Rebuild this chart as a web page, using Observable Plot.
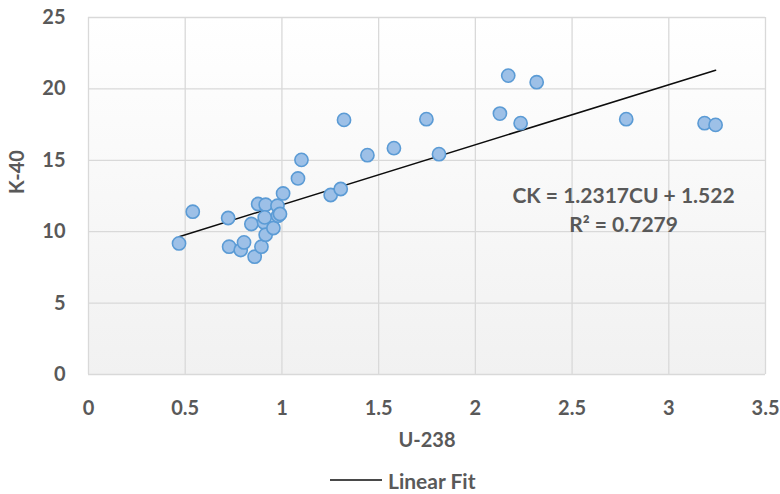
<!DOCTYPE html>
<html>
<head>
<meta charset="utf-8">
<script src="https://cdn.jsdelivr.net/npm/d3@7"></script>
<script src="https://cdn.jsdelivr.net/npm/@observablehq/plot@0.6"></script>
<style>
  html, body { margin: 0; padding: 0; background: #ffffff; }
  #chart { width: 780px; height: 462px; }
  #legend { width: 780px; height: 36px; display: flex; justify-content: flex-start; align-items: center;
    box-sizing: border-box; padding-left: 330px;
    font-family: Lato, sans-serif; font-weight: bold; font-size: 21px; color: #595959; }
  #legend svg { margin-right: 6px; }
</style>
</head>
<body>
<div id="chart"></div>
<div id="legend"></div>
<script>
// U-238 values (x)
const u238 = [0.468, 0.539, 0.722, 0.727, 0.787, 0.804, 0.842, 0.859, 0.894, 0.877,
              0.916, 0.908, 0.911, 0.916, 0.956, 0.977, 0.980, 0.990, 1.006, 1.083,
              1.101, 1.252, 1.304, 1.321, 1.442, 1.579, 1.747, 1.812, 2.127, 2.170,
              2.234, 2.317, 2.780, 3.185, 3.242];
// K-40 values (y)
const k40 = [9.18, 11.40, 10.96, 8.95, 8.72, 9.25, 10.54, 8.25, 8.95, 11.94,
             11.89, 10.65, 11.00, 9.79, 10.26, 11.82, 11.12, 11.24, 12.68, 13.73,
             15.03, 12.57, 12.99, 17.83, 15.36, 15.85, 17.88, 15.43, 18.27, 20.93,
             17.60, 20.47, 17.88, 17.60, 17.48];
const xTicks = [0, 0.5, 1, 1.5, 2, 2.5, 3, 3.5];
const yTicks = [0, 5, 10, 15, 20, 25];
const xLabel = "U-238";
const yLabel = "K-40";
const fitLabel = "Linear Fit";
const annotationText = ["CK = 1.2317CU + 1.522", "R² = 0.7279"];
const annotationX = [2.766, 2.766];
const annotationY = [12.45, 10.42];

const data = u238.map((u, i) => ({u, k: k40[i]}));
const annotation = annotationText.map((t, i) => ({t, x: annotationX[i], y: annotationY[i]}));

const textColor = "#595959";
const chart = Plot.plot({
  width: 780,
  height: 462,
  marginLeft: 88,
  marginRight: 15,
  marginTop: 17,
  marginBottom: 88,
  style: { fontFamily: "Lato, sans-serif", fontWeight: "bold", fontSize: "20px", color: textColor, background: "transparent", overflow: "visible" },
  x: { domain: [0, 3.5], label: null },
  y: { domain: [0, 25], label: null },
  marks: [
    Plot.frame({ fill: "url(#bggrad)", stroke: null }),
    Plot.gridX(xTicks, { stroke: "#d9d9d9", strokeOpacity: 1, strokeWidth: 1.3 }),
    Plot.gridY(yTicks, { stroke: "#d9d9d9", strokeOpacity: 1, strokeWidth: 1.3 }),
    Plot.axisX(xTicks, { tickSize: 0, tickPadding: 26, label: null, fill: textColor, tickFormat: d => String(d) }),
    Plot.axisY(yTicks, { tickSize: 0, tickPadding: 23, label: null, fill: textColor }),
    Plot.text([xLabel], { frameAnchor: "bottom", dy: 72, fill: textColor, fontSize: 20, fontWeight: "bold" }),
    Plot.text([yLabel], { frameAnchor: "left", dx: -71, dy: -2, rotate: -90, fill: textColor, fontSize: 20, fontWeight: "bold" }),
    Plot.linearRegressionY(data, { x: "u", y: "k", ci: 0, stroke: "#0d0d0d", strokeWidth: 1.5 }),
    Plot.dot(data, { x: "u", y: "k", r: 6.6, fill: "#9dc0e7", stroke: "#5b9bd5", strokeWidth: 1.6 }),
    Plot.text(annotation, { x: "x", y: "y", text: "t", fill: textColor, fontSize: 21, fontWeight: "bold" })
  ]
});

const ns = "http://www.w3.org/2000/svg";
const defs = document.createElementNS(ns, "defs");
defs.innerHTML = '<linearGradient id="bggrad" x1="0" y1="0" x2="0" y2="1"><stop offset="0" stop-color="#ffffff"/><stop offset="1" stop-color="#f1f1f1"/></linearGradient>';
chart.insertBefore(defs, chart.firstChild);
document.getElementById("chart").appendChild(chart);

const legend = document.getElementById("legend");
legend.innerHTML = '<svg width="52" height="10"><line x1="0" x2="52" y1="5" y2="5" stroke="#0d0d0d" stroke-width="1.5"/></svg><span>' + fitLabel + '</span>';
</script>
</body>
</html>
